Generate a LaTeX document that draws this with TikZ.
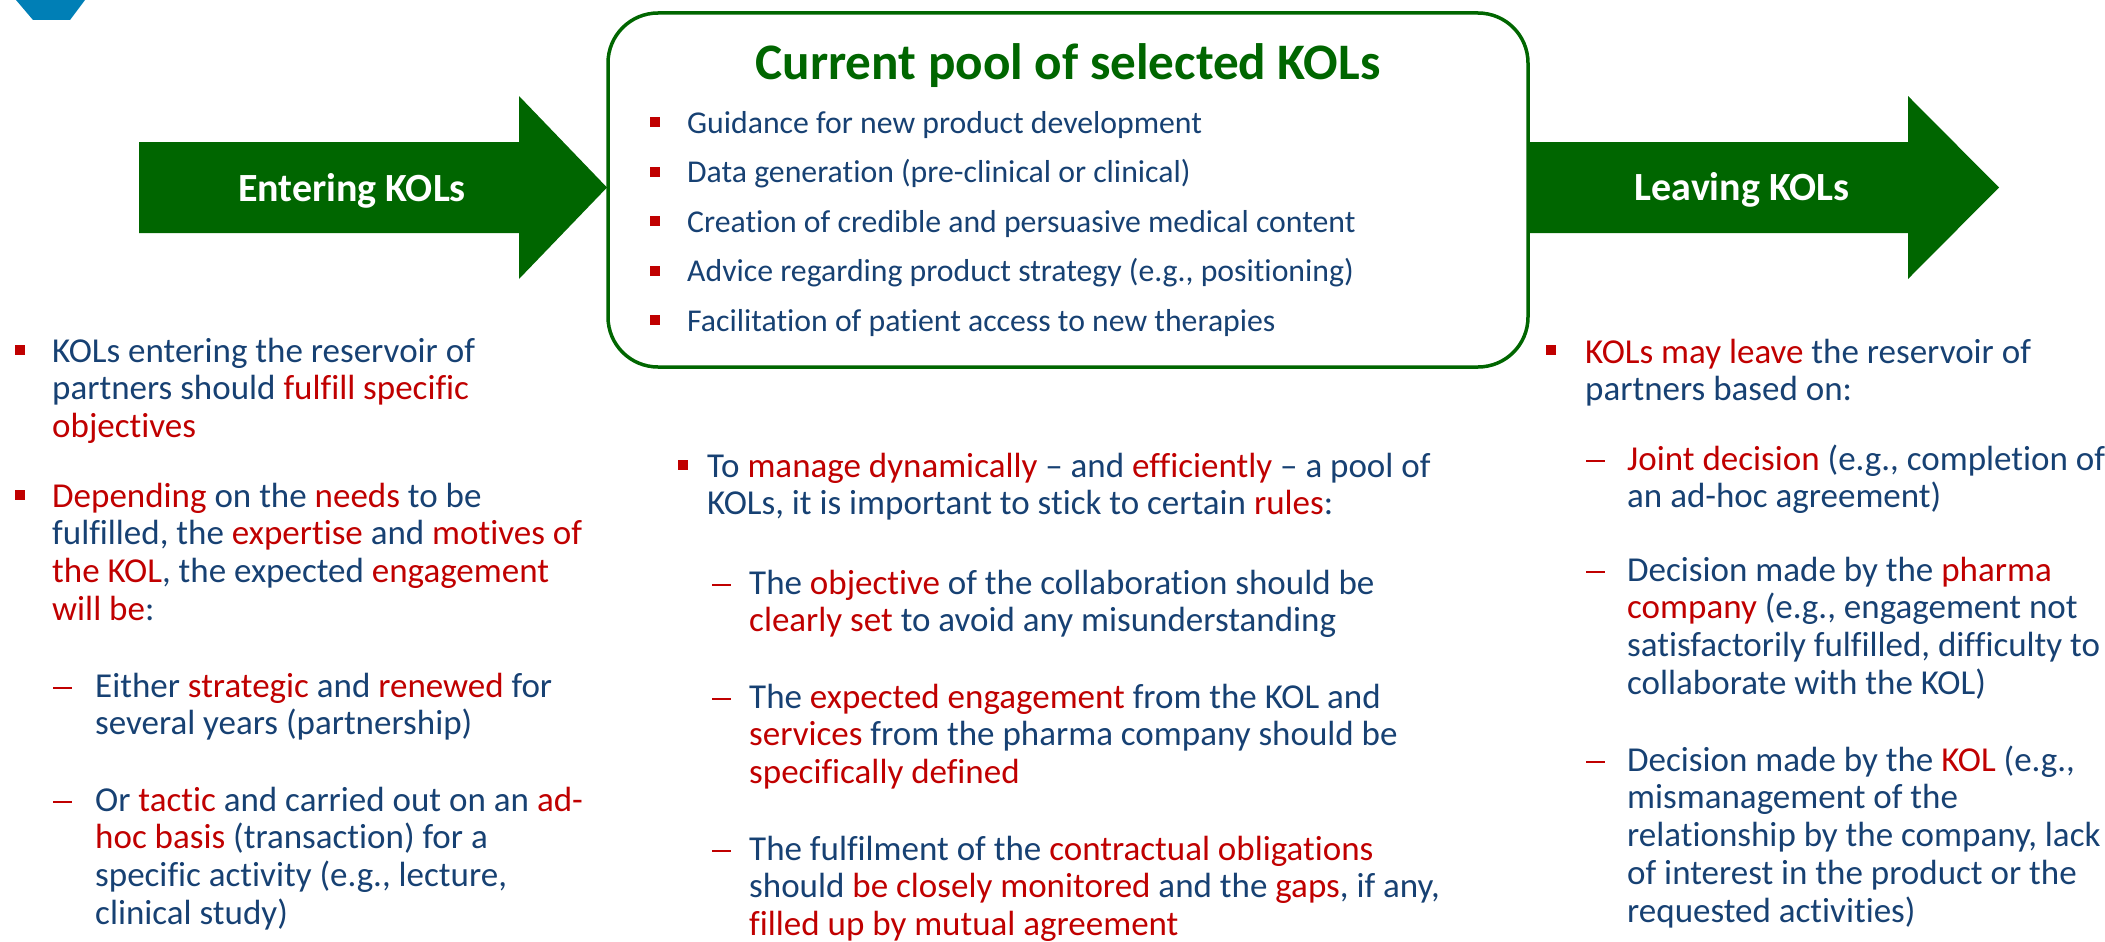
\documentclass[tikz,border=0pt]{standalone}
\usepackage{fontspec}
\setmainfont{Carlito}[Ligatures=NoCommon]
\definecolor{kblue}{RGB}{23,65,115}
\definecolor{kred}{RGB}{192,0,0}
\definecolor{kgreen}{RGB}{0,102,0}
\definecolor{logoblue}{RGB}{0,127,182}
\newcommand\R[1]{\textcolor{kred}{#1}}
\tikzset{
  txt/.style={inner sep=0, anchor=base west, text=kblue, font=\fontsize{35}{38}\selectfont},
  boxtxt/.style={txt, font=\fontsize{31.75}{36}\selectfont},
  sq/.style={fill=kred, minimum size=10, inner sep=0},
  dashbar/.style={fill=kred, minimum width=19, minimum height=2.6, inner sep=0, anchor=west},
  arrowshape/.style={fill=kgreen, draw=none},
  arrowlbl/.style={inner sep=0, anchor=base, text=white, font=\fontsize{40}{46}\selectfont\bfseries},
  pool/.style={draw=kgreen, line width=3.5, fill=white, rounded corners=50},
  titletxt/.style={inner sep=0, anchor=base, text=kgreen, font=\fontsize{51.2}{58}\selectfont\bfseries},
}
\newcommand\blk[5]{%
  \foreach \ln [count=\i] in {#5}{\node[#1] (#4-\i) at ({#2},{#3+(\i-1)*37.9}) {\ln};}}
\begin{document}
\begin{tikzpicture}[x=1pt,y=-1pt]
\useasboundingbox (0,0) rectangle (2105,942);
% logo fragment
\fill[logoblue] (16,0) -- (85,0) -- (70,20) -- (33,20) -- cycle;
% arrows
\fill[arrowshape] (139,142) -- (519,142) -- (519,96) -- (607,187.5) -- (519,279) -- (519,233) -- (139,233) -- cycle;
\fill[arrowshape] (1520,142) -- (1908,142) -- (1908,96) -- (1999,187.5) -- (1908,279) -- (1908,233) -- (1520,233) -- cycle;
\node[arrowlbl] (enter) at (352,201) {Entering KOLs};
\node[arrowlbl] (leave) at (1742,200) {Leaving KOLs};
% pool box
\draw[pool] (608,13) rectangle (1528,367);
\node[titletxt] (title) at (1068,80) {Current pool of selected KOLs};
\node[sq] (pb1) at (655,122) {};
\node[sq] (pb2) at (655,171.5) {};
\node[sq] (pb3) at (655,221) {};
\node[sq] (pb4) at (655,270.5) {};
\node[sq] (pb5) at (655,320) {};
\node[boxtxt] (p1) at (687,133) {Guidance for new product development};
\node[boxtxt] (p2) at (687,182.5) {Data generation (pre-clinical or clinical)};
\node[boxtxt] (p3) at (687,232) {Creation of credible and persuasive medical content};
\node[boxtxt] (p4) at (687,281.5) {Advice regarding product strategy (e.g., positioning)};
\node[boxtxt] (p5) at (687,331) {Facilitation of patient access to new therapies};
% left column
\node[sq] (lb1) at (20,350) {};
\blk{txt}{52}{362}{la}{{KOLs entering the reservoir of},{partners should \R{fulfill specific}},{\R{objectives}}}
\node[sq] (lb2) at (20,495) {};
\blk{txt}{52}{507}{lb}{{\R{Depending} on the \R{needs} to be},{fulfilled, the \R{expertise} and \R{motives of}},{\R{the KOL}, the expected \R{engagement}},{\R{will be}:}}
\node[dashbar] (ld1) at (53,688) {};
\blk{txt}{95}{697}{lc}{{Either \R{strategic} and \R{renewed} for},{several years (partnership)}}
\node[dashbar] (ld2) at (53,802) {};
\blk{txt}{95}{811}{ld}{{Or \R{tactic} and carried out on an \R{ad-}},{\R{hoc basis} (transaction) for a},{specific activity (e.g., lecture,},{clinical study)}}
% center column
\node[sq] (cb1) at (683,465) {};
\blk{txt}{707}{477}{ca}{{To \R{manage dynamically} – and \R{efficiently} – a pool of},{KOLs, it is important to stick to certain \R{rules}:}}
\node[dashbar] (cd1) at (712,585) {};
\blk{txt}{749}{594}{cb}{{The \R{objective} of the collaboration should be},{\R{clearly set} to avoid any misunderstanding}}
\node[dashbar] (cd2) at (712,699) {};
\blk{txt}{749}{708}{cc}{{The \R{expected engagement} from the KOL and},{\R{services} from the pharma company should be},{\R{specifically defined}}}
\node[dashbar] (cd3) at (712,851) {};
\blk{txt}{749}{860}{cd}{{The fulfilment of the \R{contractual obligations}},{should \R{be closely monitored} and the \R{gaps}, if any,},{\R{filled up by mutual agreement}}}
% right column
\node[sq] (rb1) at (1551,350) {};
\blk{txt}{1585}{363}{ra}{{\R{KOLs may leave} the reservoir of},{partners based on:}}
\node[dashbar] (rd1) at (1586,461) {};
\blk{txt}{1627}{470}{rb}{{\R{Joint decision} (e.g., completion of},{an ad-hoc agreement)}}
\node[dashbar] (rd2) at (1586,572) {};
\blk{txt}{1627}{581}{rc}{{Decision made by the \R{pharma}},{\R{company} (e.g., engagement not},{satisfactorily fulfilled, difficulty to},{collaborate with the KOL)}}
\node[dashbar] (rd3) at (1586,762) {};
\blk{txt}{1627}{771}{rd}{{Decision made by the \R{KOL} (e.g.,},{mismanagement of the},{relationship by the company, lack},{of interest in the product or the},{requested activities)}}
\end{tikzpicture}
\end{document}
